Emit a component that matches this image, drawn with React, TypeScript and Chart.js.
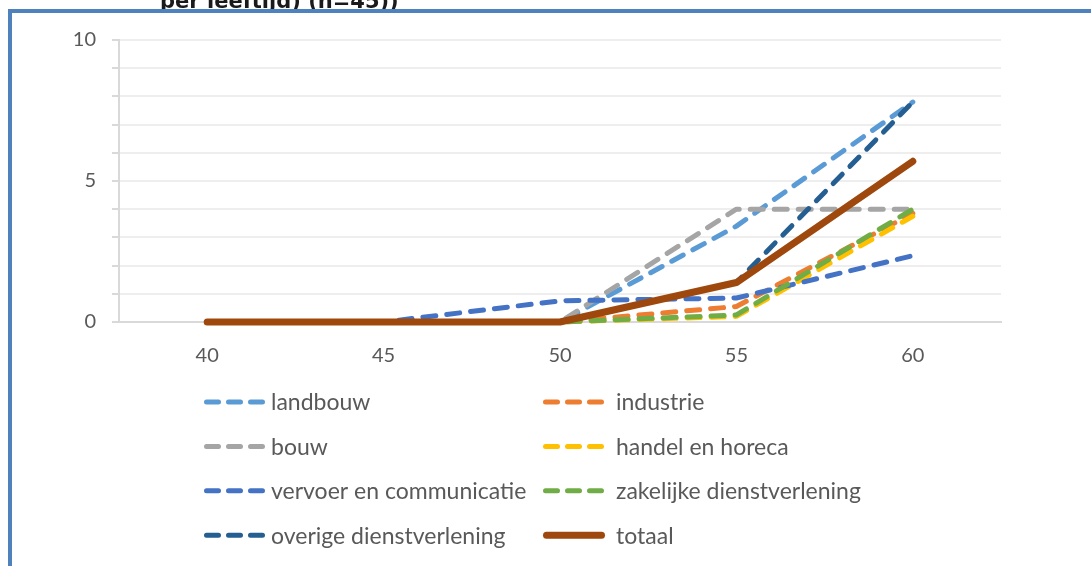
import React, { useEffect, useRef } from "react";
import { Chart, registerables } from "chart.js";

Chart.register(...registerables);

// ---- data ----
const ageGroups = ["40", "45", "50", "55", "60"];
const seriesNames = [
  "landbouw",
  "industrie",
  "bouw",
  "handel en horeca",
  "vervoer en communicatie",
  "zakelijke dienstverlening",
  "overige dienstverlening",
  "totaal",
];
const landbouw = [0, 0, 0, 3.4, 7.8];
const industrie = [0, 0, 0, 0.55, 3.85];
const bouw = [0, 0, 0, 4.0, 4.0];
const handelHoreca = [0, 0, 0, 0.2, 3.75];
const vervoerCommunicatie = [0, 0, 0.75, 0.85, 2.35];
const zakelijkeDienst = [0, 0, 0, 0.25, 4.0];
const overigeDienst = [0, 0, 0, 1.4, 7.8];
const totaal = [0, 0, 0, 1.4, 5.7];
const seriesValues = [
  landbouw,
  industrie,
  bouw,
  handelHoreca,
  vervoerCommunicatie,
  zakelijkeDienst,
  overigeDienst,
  totaal,
];
const seriesColors = [
  "#5B9BD5",
  "#ED7D31",
  "#A5A5A5",
  "#FFC000",
  "#4472C4",
  "#70AD47",
  "#255E91",
  "#9E480E",
];
const yTickLabels = [0, 5, 10];
const titleText = "per leeftijd) (n=45))";

const W = 1091;
const H = 566;
const FONT = "Lato, 'Liberation Sans', sans-serif";

const overlayPlugin = {
  id: "overlay",
  afterDraw(chart: any) {
    const ctx: CanvasRenderingContext2D = chart.ctx;
    // clipped title above the frame
    ctx.save();
    ctx.beginPath();
    ctx.rect(0, 0, W, 9.5);
    ctx.clip();
    ctx.font = "bold 21px 'DejaVu Sans'";
    ctx.fillStyle = "#1a1a1a";
    ctx.textBaseline = "alphabetic";
    ctx.textAlign = "left";
    ctx.fillText(titleText, 160, 8);
    ctx.restore();

    // frame
    ctx.save();
    ctx.fillStyle = "#4F81BD";
    ctx.fillRect(8, 9, W - 8, 4);
    ctx.fillRect(8, 9, 4, H - 9);
    ctx.restore();

    // legend (two columns)
    chart.data.datasets.forEach((ds: any, i: number) => {
      const col = i % 2;
      const row = Math.floor(i / 2);
      const x0 = col === 0 ? 204 : 543;
      const sampleW = 62;
      const textX = col === 0 ? 271 : 616;
      const y = 402 + row * 44.4;
      const dashed = ds.borderDash && ds.borderDash.length;
      ctx.save();
      ctx.strokeStyle = ds.borderColor;
      ctx.lineWidth = ds.borderWidth;
      ctx.lineCap = "round";
      ctx.setLineDash(dashed ? [12, 10] : []);
      ctx.beginPath();
      const half = ds.borderWidth / 2;
      ctx.moveTo(x0 + half, y);
      ctx.lineTo(x0 + sampleW - half, y);
      ctx.stroke();
      ctx.setLineDash([]);
      ctx.fillStyle = "#595959";
      ctx.font = `23px ${FONT}`;
      ctx.textBaseline = "middle";
      ctx.textAlign = "left";
      ctx.fillText(ds.label, textX, y + 1);
      ctx.restore();
    });
  },
};

export default function App() {
  const canvasRef = useRef<HTMLCanvasElement | null>(null);

  useEffect(() => {
    let chart: Chart | null = null;
    let cancelled = false;
    const build = () => {
      if (cancelled || !canvasRef.current) return;
      const datasets = seriesNames.map((name, i) => {
        const isTotal = name === "totaal";
        return {
          label: name,
          data: seriesValues[i],
          borderColor: seriesColors[i],
          backgroundColor: seriesColors[i],
          borderWidth: isTotal ? 7 : 5,
          borderDash: isTotal ? [] : [13, 11],
          borderCapStyle: "round",
          borderJoinStyle: "round",
          pointRadius: 0,
          pointHoverRadius: 0,
          tension: 0,
          fill: false,
          clip: false,
          order: seriesNames.length - i,
        };
      });
      chart = new Chart(canvasRef.current, {
        type: "line",
        data: { labels: ageGroups, datasets: datasets as any },
        options: {
          responsive: false,
          animation: false,
          events: [],
          layout: { padding: { top: 40, right: 90, bottom: 199, left: 0 } },
          plugins: {
            legend: { display: false },
            tooltip: { enabled: false },
            title: { display: false },
          },
          scales: {
            x: {
              type: "category",
              offset: true,
              afterFit: (s: any) => {
                s.height = 45;
              },
              grid: { display: false, drawTicks: false },
              border: { display: true, color: "#D9D9D9", width: 2 },
              ticks: {
                color: "#595959",
                font: { family: FONT, size: 20 },
                padding: 22,
                maxRotation: 0,
                autoSkip: false,
              },
            },
            y: {
              min: 0,
              max: 10,
              afterFit: (s: any) => {
                s.width = 119;
              },
              ticks: {
                stepSize: 1,
                autoSkip: false,
                color: "#595959",
                font: { family: FONT, size: 20 },
                padding: 16,
                callback: (v: any) => (yTickLabels.includes(Number(v)) ? String(v) : ""),
              },
              grid: {
                color: "#EEEEEE",
                lineWidth: 2,
                drawTicks: true,
                tickLength: 7,
                tickColor: "#D9D9D9",
              },
              border: { display: true, color: "#D9D9D9", width: 2 },
            },
          },
        } as any,
        plugins: [overlayPlugin],
      });
    };
    const fontsReady = (document as any).fonts
      ? Promise.all([
          (document as any).fonts.load(`20px Lato`),
          (document as any).fonts.load(`bold 21px 'DejaVu Sans'`),
        ]).catch(() => null)
      : Promise.resolve(null);
    fontsReady.then(build);
    return () => {
      cancelled = true;
      if (chart) chart.destroy();
    };
  }, []);

  return (
    <div
      style={{
        position: "fixed",
        left: 0,
        top: 0,
        width: W,
        height: H,
        overflow: "hidden",
        background: "#ffffff",
      }}
    >
      <canvas
        ref={canvasRef}
        width={W}
        height={H}
        style={{ display: "block", width: W, height: H }}
      />
    </div>
  );
}
